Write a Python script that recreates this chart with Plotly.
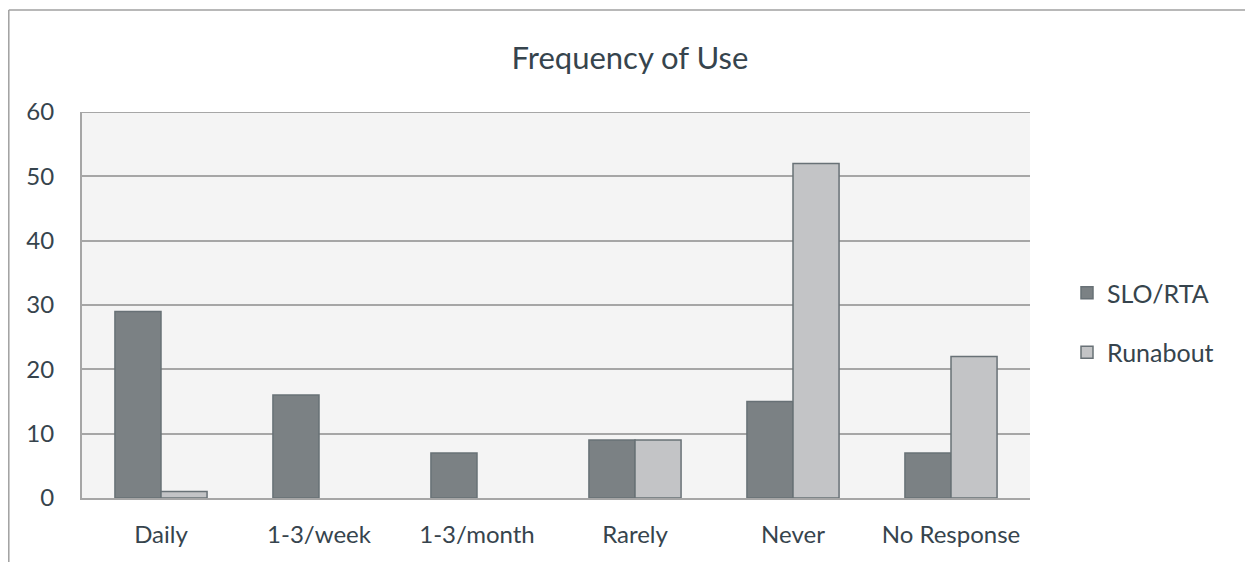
import plotly.graph_objects as go

categories = ["Daily", "1-3/week", "1-3/month", "Rarely", "Never", "No Response"]
slo_rta = [29, 16, 7, 9, 15, 7]
runabout = [1, 0, 0, 9, 52, 22]
series_names = ["SLO/RTA", "Runabout"]
y_ticks = [0, 10, 20, 30, 40, 50, 60]

OFF = 8  # page body margin
W, H = 1253 - OFF, 562 - OFF
# plot area in page pixels
L, R, T, B = 82 - OFF, 1030 - OFF, 112 - OFF, 498 - OFF
text_col = "#36444d"
font_fam = "Lato, 'Open Sans', sans-serif"
grid_col = "#a6a6a6"

def line_widths(vals):
    return [0 if v == 0 else 1.5 for v in vals]

fig = go.Figure()
fig.add_trace(go.Bar(
    x=categories, y=slo_rta, name=series_names[0], legendgroup="a",
    marker=dict(color="#7b8184", line=dict(color="#687176", width=line_widths(slo_rta))),
))
fig.add_trace(go.Bar(
    x=categories, y=runabout, name=series_names[1], legendgroup="b",
    marker=dict(color="#c3c4c6", line=dict(color="#687176", width=line_widths(runabout))),
))

pw = R - L
ph = B - T
def px_x(p):
    return (p - OFF - L) / pw
def px_y(p):
    return (B - (p - OFF)) / ph

fig.update_layout(
    width=W, height=H,
    margin=dict(l=L, r=W - R, t=T, b=H - B, pad=0),
    paper_bgcolor="white",
    plot_bgcolor="#f4f4f4",
    barmode="group",
    bargap=0.417,
    bargroupgap=0,
    font=dict(family=font_fam, color=text_col, size=24),
    title=dict(text="Frequency of Use", x=(630 - OFF) / W, xanchor="center",
               y=1 - (58 - OFF) / H, yanchor="middle",
               font=dict(size=31, color=text_col, family=font_fam)),
    showlegend=True,
    legend=dict(x=px_x(1067), y=px_y(270), xanchor="left", yanchor="top",
                font=dict(size=25, color=text_col), tracegroupgap=24,
                traceorder="grouped", bgcolor="rgba(0,0,0,0)"),
    xaxis=dict(
        showgrid=False, showline=True, linecolor=grid_col, linewidth=2,
        ticks="", tickfont=dict(size=24, color=text_col), fixedrange=True,
        ticklabelstandoff=14,
    ),
    yaxis=dict(
        range=[0, 60], tickvals=y_ticks, showgrid=True, gridcolor=grid_col,
        gridwidth=1.5, zeroline=False, showline=True, linecolor=grid_col,
        linewidth=2, ticks="", tickfont=dict(size=24, color=text_col),
        ticklabelstandoff=21, fixedrange=True,
    ),
    shapes=[
        dict(type="line", xref="paper", yref="y", layer="below",
             x0=0, x1=1, y0=y_ticks[-1], y1=y_ticks[-1],
             line=dict(color=grid_col, width=2)),
        dict(type="line", xref="paper", yref="paper",
             x0=px_x(8.8), x1=px_x(1265), y0=px_y(10), y1=px_y(10),
             line=dict(color="#a0a0a0", width=1.5)),
        dict(type="line", xref="paper", yref="paper",
             x0=px_x(8.8), x1=px_x(8.8), y0=px_y(10), y1=px_y(575),
             line=dict(color="#a0a0a0", width=1.5)),
    ],
)

fig.write_html("out.html")
